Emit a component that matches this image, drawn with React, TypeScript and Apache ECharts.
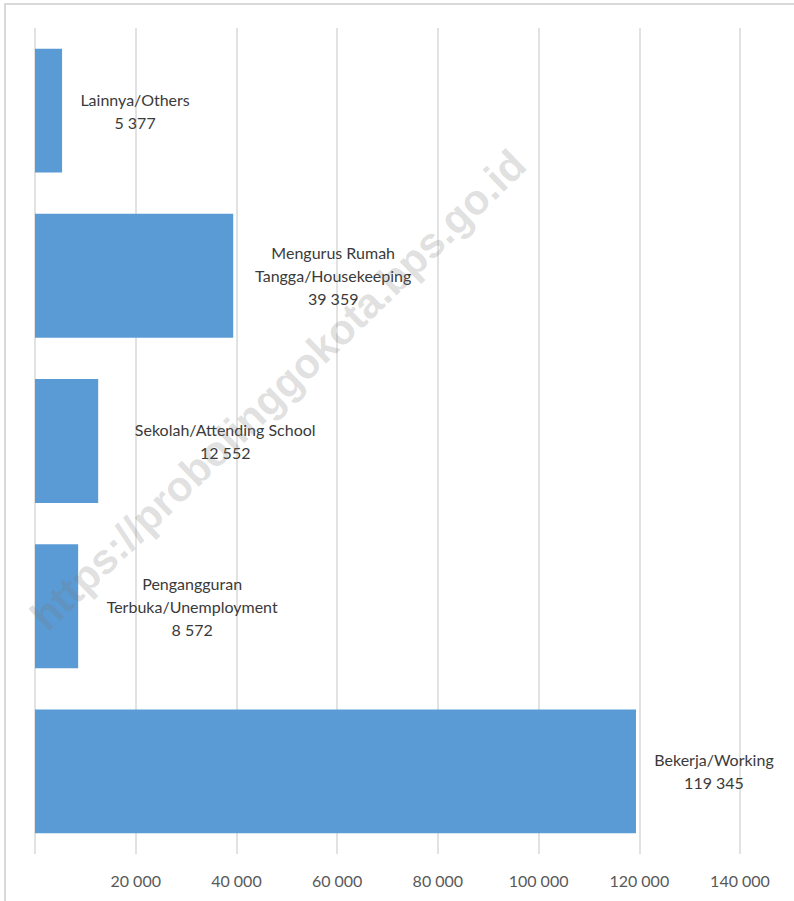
import React, { useEffect, useRef } from "react";
import * as echarts from "echarts";

// Categories from bottom to top
const categories = [
  "Bekerja/Working",
  "Pengangguran\nTerbuka/Unemployment",
  "Sekolah/Attending School",
  "Mengurus Rumah\nTangga/Housekeeping",
  "Lainnya/Others",
];
const values = [119345, 8572, 12552, 39359, 5377];
const tickValues = [0, 20000, 40000, 60000, 80000, 100000, 120000, 140000];

// label centre distance from the bar end (px), same order as categories
const labelOffsets = [78, 114, 127, 100, 73];

const watermark = "https://probolinggokota.bps.go.id";

const fmt = (v: number) => String(v).replace(/\B(?=(\d{3})+(?!\d))/g, " ");

const FONT = "Lato, 'Open Sans', sans-serif";

export default function App() {
  const ref = useRef<HTMLDivElement>(null);
  useEffect(() => {
    if (!ref.current) return;
    const chart = echarts.init(ref.current, null, { renderer: "svg" });
    chart.setOption({
      animation: false,
      backgroundColor: "#ffffff",
      grid: { left: 35, right: 54, top: 28, bottom: 47 },
      xAxis: {
        type: "value",
        min: tickValues[0],
        max: tickValues[tickValues.length - 1],
        interval: tickValues[1] - tickValues[0],
        axisLine: { show: false },
        axisTick: { show: false },
        splitLine: { show: true, lineStyle: { color: "#d9d9d9", width: 1.5 } },
        axisLabel: {
          color: "#595959",
          fontSize: 16,
          fontFamily: FONT,
          margin: 18,
          formatter: (v: number) => (v === 0 ? "" : fmt(v)),
        },
      },
      yAxis: {
        type: "category",
        data: categories,
        axisLine: { show: false },
        axisTick: { show: false },
        axisLabel: { show: false },
        splitLine: { show: false },
      },
      series: [
        {
          type: "bar",
          barCategoryGap: "25%",
          itemStyle: { color: "#5b9bd5" },
          data: values.map((v, i) => ({
            value: v,
            label: {
              show: true,
              position: "right",
              align: "center",
              verticalAlign: "middle",
              distance: labelOffsets[i],
              color: "#3a3a3a",
              fontSize: 16,
              lineHeight: 23,
              fontFamily: FONT,
              formatter: () => `${categories[i]}\n${fmt(v)}`,
            },
          })),
        },
      ],
      graphic: [
        {
          type: "rect",
          silent: true,
          shape: { x: 5, y: 4, width: 900, height: 1000 },
          style: { fill: "none", stroke: "#d9d9d9", lineWidth: 2 },
          z: 100,
        },
        {
          type: "text",
          silent: true,
          x: 278,
          y: 390,
          rotation: (44 * Math.PI) / 180,
          style: {
            text: watermark,
            fontSize: 42,
            fontWeight: "bold",
            fontFamily: "'Liberation Sans', Arial, sans-serif",
            fill: "rgba(120,120,120,0.24)",
            align: "center",
            verticalAlign: "middle",
          },
          z: 100,
        },
      ],
    });
    return () => chart.dispose();
  }, []);
  return (
    <div
      ref={ref}
      style={{ position: "fixed", left: 0, top: 0, width: 794, height: 901 }}
    />
  );
}
